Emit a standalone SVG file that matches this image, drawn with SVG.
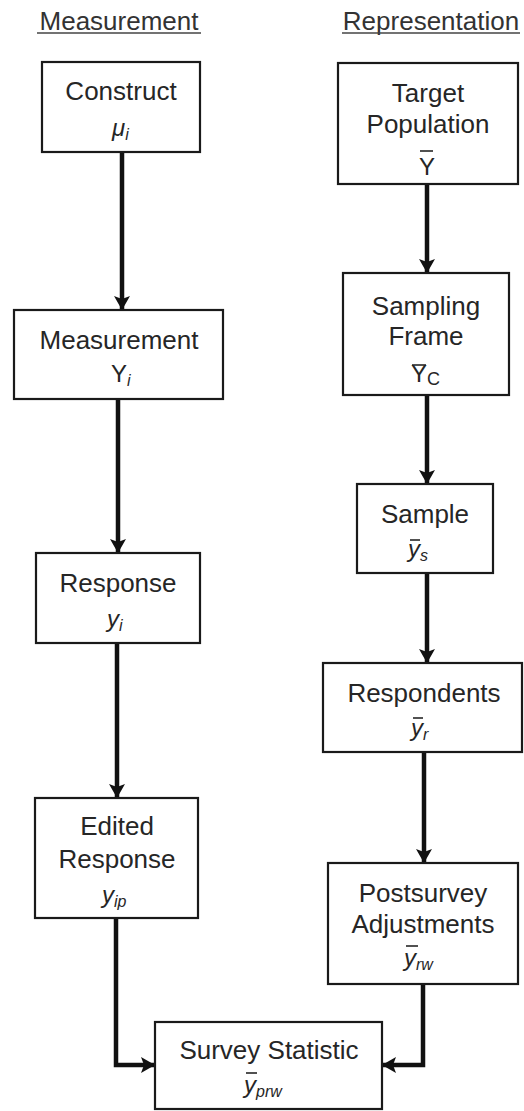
<svg xmlns="http://www.w3.org/2000/svg" width="524" height="1111" viewBox="0 0 524 1111">
  <defs>
    <style>
      .box { fill: #ffffff; stroke: #1a1a1a; stroke-width: 2.2; }
      .lbl { font-family: "Liberation Sans", Arial, sans-serif; font-size: 26px; fill: #262626; text-anchor: middle; }
      .hdr { font-family: "Liberation Sans", Arial, sans-serif; font-size: 26px; fill: #333333; text-anchor: middle; }
      .var { font-family: "Liberation Sans", Arial, sans-serif; font-size: 24px; fill: #262626; }
      .it { font-style: italic; }
      .sub { font-size: 16px; }
      .bar { stroke: #262626; stroke-width: 1.6; }
      .ul { stroke: #444444; stroke-width: 1.5; }
      .conn { fill: none; stroke: #111111; stroke-width: 4.5; }
    </style>
    <marker id="head" viewBox="0 0 14 16" refX="13" refY="8" markerWidth="14" markerHeight="16" markerUnits="userSpaceOnUse" orient="auto">
      <path d="M0,0 L14,8 L0,16 L3,8 z" fill="#111111"/>
    </marker>
  </defs>

  <rect width="524" height="1111" fill="#ffffff"/>

  <!-- column headers -->
  <g id="header-measurement">
    <text class="hdr" x="119" y="30">Measurement</text>
    <line class="ul" x1="37" y1="33" x2="201" y2="33"/>
  </g>
  <g id="header-representation">
    <text class="hdr" x="431" y="30">Representation</text>
    <line class="ul" x1="342" y1="33" x2="520" y2="33"/>
  </g>

  <!-- connectors -->
  <g id="connectors">
    <path class="conn" d="M122,152 V309" marker-end="url(#head)"/>
    <path class="conn" d="M118,399 V552" marker-end="url(#head)"/>
    <path class="conn" d="M117,643 V797" marker-end="url(#head)"/>
    <path class="conn" d="M116,918 V1065 H154" marker-end="url(#head)"/>
    <path class="conn" d="M427,184 V272" marker-end="url(#head)"/>
    <path class="conn" d="M427,395 V483" marker-end="url(#head)"/>
    <path class="conn" d="M427,573 V662" marker-end="url(#head)"/>
    <path class="conn" d="M424,752 V862" marker-end="url(#head)"/>
    <path class="conn" d="M423,984 V1065 H383" marker-end="url(#head)"/>
  </g>

  <!-- measurement side -->
  <g id="construct">
    <rect class="box" x="42" y="62" width="158" height="90"/>
    <text class="lbl" x="121" y="100">Construct</text>
    <text class="var" x="112" y="136"><tspan class="it">μ</tspan><tspan class="it sub" dy="4">i</tspan></text>
  </g>
  <g id="measurement">
    <rect class="box" x="14" y="310" width="209" height="89"/>
    <text class="lbl" x="119" y="349">Measurement</text>
    <text class="var" x="111" y="382"><tspan>Y</tspan><tspan class="it sub" dy="4">i</tspan></text>
  </g>
  <g id="response">
    <rect class="box" x="36" y="553" width="164" height="90"/>
    <text class="lbl" x="118" y="592">Response</text>
    <text class="var" x="107" y="627"><tspan class="it">y</tspan><tspan class="it sub" dy="4">i</tspan></text>
  </g>
  <g id="edited-response">
    <rect class="box" x="35" y="798" width="163" height="120"/>
    <text class="lbl" x="117" y="835">Edited</text>
    <text class="lbl" x="117" y="868">Response</text>
    <text class="var" x="102" y="903"><tspan class="it">y</tspan><tspan class="it sub" dy="4">ip</tspan></text>
  </g>

  <!-- representation side -->
  <g id="target-population">
    <rect class="box" x="338" y="63" width="180" height="121"/>
    <text class="lbl" x="428" y="102">Target</text>
    <text class="lbl" x="428" y="133">Population</text>
    <text class="var" x="419" y="175" font-size="25">Y</text>
    <line class="bar" x1="420" y1="151" x2="433" y2="151"/>
  </g>
  <g id="sampling-frame">
    <rect class="box" x="343" y="273" width="166" height="122"/>
    <text class="lbl" x="426" y="315">Sampling</text>
    <text class="lbl" x="426" y="345">Frame</text>
    <text class="var" x="411" y="382"><tspan>Y</tspan><tspan dy="3" font-size="18">C</tspan></text>
    <line class="bar" x1="412" y1="365" x2="426" y2="365"/>
  </g>
  <g id="sample">
    <rect class="box" x="357" y="484" width="136" height="89"/>
    <text class="lbl" x="425" y="523">Sample</text>
    <text class="var" x="408" y="557"><tspan class="it">y</tspan><tspan class="it sub" dy="4">s</tspan></text>
    <line class="bar" x1="410" y1="540" x2="420" y2="540"/>
  </g>
  <g id="respondents">
    <rect class="box" x="323" y="663" width="199" height="89"/>
    <text class="lbl" x="424" y="702">Respondents</text>
    <text class="var" x="411" y="736"><tspan class="it">y</tspan><tspan class="it sub" dy="4">r</tspan></text>
    <line class="bar" x1="413" y1="718" x2="423" y2="718"/>
  </g>
  <g id="postsurvey-adjustments">
    <rect class="box" x="328" y="863" width="190" height="121"/>
    <text class="lbl" x="423" y="902">Postsurvey</text>
    <text class="lbl" x="423" y="933">Adjustments</text>
    <text class="var" x="404" y="966"><tspan class="it">y</tspan><tspan class="it sub" dy="4">rw</tspan></text>
    <line class="bar" x1="406" y1="946" x2="418" y2="946"/>
  </g>

  <!-- combined result -->
  <g id="survey-statistic">
    <rect class="box" x="155" y="1022" width="227" height="87"/>
    <text class="lbl" x="269" y="1059">Survey Statistic</text>
    <text class="var" x="244" y="1093"><tspan class="it">y</tspan><tspan class="it sub" dy="4">prw</tspan></text>
    <line class="bar" x1="246" y1="1073" x2="257" y2="1073"/>
  </g>
</svg>
